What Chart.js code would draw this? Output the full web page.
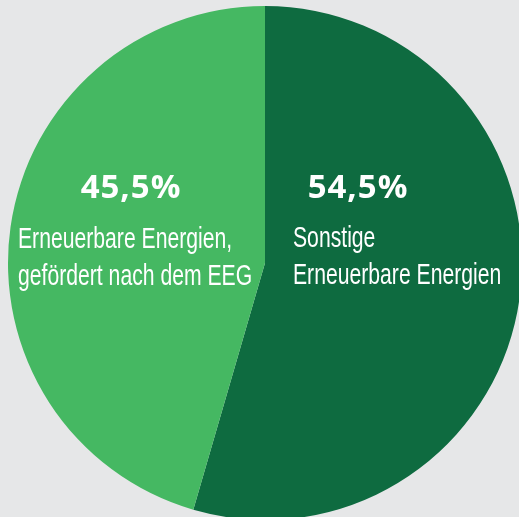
<!DOCTYPE html>
<html>
<head>
<meta charset="utf-8">
<script src="https://cdn.jsdelivr.net/npm/chart.js@4"></script>
<style>
  html, body { margin: 0; padding: 0; background: #e6e7e8; overflow: hidden; }
  #wrap { position: absolute; left: 0; top: 0; width: 530px; height: 530px; }
</style>
</head>
<body>
<div id="wrap"><canvas id="pie"></canvas></div>
<script>
// data
const categories = ['Sonstige Erneuerbare Energien', 'Erneuerbare Energien, gefördert nach dem EEG'];
const shares = [54.5, 45.5];
const shareLabels = ['54,5%', '45,5%'];
const labelLines = [
    ['Sonstige', 'Erneuerbare Energien'],
    ['Erneuerbare Energien,', 'gefördert nach dem EEG']
];
const sliceColors = ['#0e6b40', '#45b862'];

// where the text of each slice sits, relative to the pie centre (pixels)
const textSpots = [
    { pctX: 93, pctY: -65, textX: 28, textY: -16 },
    { pctX: -134, pctY: -65, textX: -247, textY: -15 }
];
// no condensed face is installed, so squeeze a normal one
const condense = 0.73;

const sliceText = {
    id: 'sliceText',
    afterDatasetsDraw(chart) {
        const ctx = chart.ctx;
        const arcs = chart.getDatasetMeta(0).data;
        ctx.save();
        ctx.fillStyle = '#ffffff';
        ctx.textBaseline = 'alphabetic';
        arcs.forEach((arc, i) => {
            const cx = arc.x, cy = arc.y;
            const spot = textSpots[i];

            ctx.font = 'bold 33px "Open Sans"';
            ctx.letterSpacing = '1px';
            ctx.textAlign = 'center';
            ctx.fillText(shareLabels[i], cx + spot.pctX, cy + spot.pctY);

            ctx.font = '29px "Liberation Sans"';
            ctx.letterSpacing = '0px';
            ctx.textAlign = 'left';
            labelLines[i].forEach((line, j) => {
                ctx.save();
                ctx.translate(cx + spot.textX, cy + spot.textY + j * 37);
                ctx.scale(condense, 1);
                ctx.fillText(line, 0, 0);
                ctx.restore();
            });
        });
        ctx.restore();
    }
};

new Chart(document.getElementById('pie'), {
    type: 'pie',
    data: {
        labels: categories,
        datasets: [{
            data: shares,
            backgroundColor: sliceColors,
            borderWidth: 0
        }]
    },
    options: {
        responsive: true,
        maintainAspectRatio: false,
        animation: false,
        layout: { padding: { left: 8, right: 8, top: 6, bottom: 10 } },
        plugins: {
            legend: { display: false },
            tooltip: { enabled: false }
        }
    },
    plugins: [sliceText]
});
</script>
</body>
</html>
